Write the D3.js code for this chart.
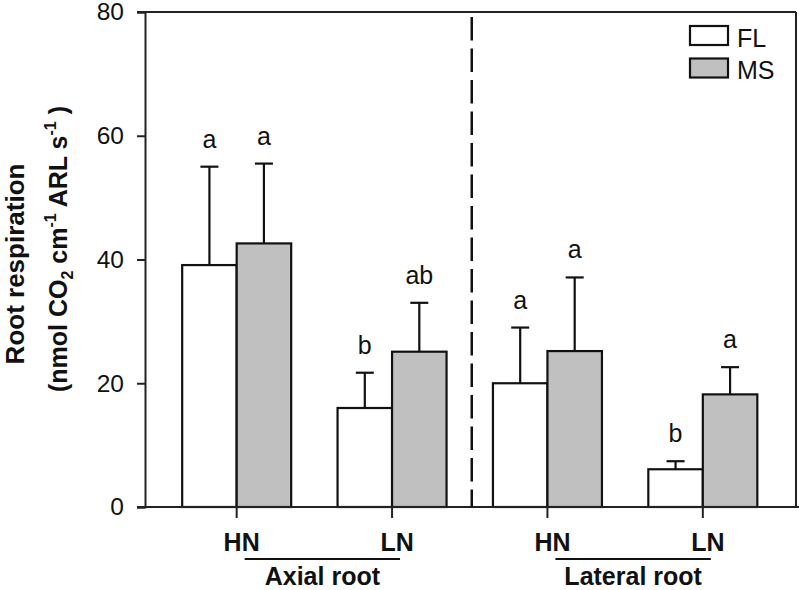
<!DOCTYPE html>
<html><head><meta charset="utf-8">
<script src="https://cdn.jsdelivr.net/npm/d3@7"></script>
<style>body{margin:0;background:#fff}svg{display:block}text{font-family:Arial,"Liberation Sans",sans-serif}</style>
</head><body><svg id="c" width="799" height="590"></svg>
<script>
const categories = ["HN","LN","HN","LN"];
const groups = ["Axial root","Lateral root"];
const seriesNames = ["FL","MS"];
const flValues = [39.1, 16.0, 20.0, 6.1];
const flErrors = [15.9, 5.7, 9.0, 1.3];
const msValues = [42.6, 25.1, 25.2, 18.2];
const msErrors = [12.9, 7.9, 11.9, 4.4];
const flLetters = ["a","b","a","b"];
const msLetters = ["a","ab","a","a"];
const yTicks = [0,20,40,60,80];

const svg = d3.select("#c");
const L = 145, R = 796, T = 12, B = 507;
const y = d3.scaleLinear().domain([0,80]).range([B,T]);
const x = d3.scalePoint().domain(d3.range(categories.length)).range([L,794.5]).padding(0.59);
const bw = 54.5;
const series = [
  {name:seriesNames[0], vals:flValues, errs:flErrors, letters:flLetters, fill:"#ffffff", off:-bw},
  {name:seriesNames[1], vals:msValues, errs:msErrors, letters:msLetters, fill:"#c0c0c0", off:0}
];

// bars
series.forEach(s=>{
  const g = svg.append("g");
  g.selectAll("line.err").data(s.vals).enter().append("line")
    .attr("x1",(d,i)=>x(i)+s.off+bw/2).attr("x2",(d,i)=>x(i)+s.off+bw/2)
    .attr("y1",d=>y(d)).attr("y2",(d,i)=>y(d+s.errs[i]))
    .attr("stroke","#111").attr("stroke-width",2.2);
  g.selectAll("line.cap").data(s.vals).enter().append("line")
    .attr("x1",(d,i)=>x(i)+s.off+bw/2-9).attr("x2",(d,i)=>x(i)+s.off+bw/2+9)
    .attr("y1",(d,i)=>y(d+s.errs[i])).attr("y2",(d,i)=>y(d+s.errs[i]))
    .attr("stroke","#111").attr("stroke-width",2.2);
  g.selectAll("rect").data(s.vals).enter().append("rect")
    .attr("x",(d,i)=>x(i)+s.off).attr("width",bw)
    .attr("y",d=>y(d)).attr("height",d=>B-y(d))
    .attr("fill",s.fill).attr("stroke","#111").attr("stroke-width",2.2);
  g.selectAll("text").data(s.vals).enter().append("text")
    .attr("x",(d,i)=>x(i)+s.off+bw/2).attr("y",(d,i)=>y(d+s.errs[i])-19)
    .attr("text-anchor","middle").attr("font-size",25).attr("fill","#111")
    .text((d,i)=>s.letters[i]);
});

// frame
svg.append("line").attr("x1",L-8).attr("x2",R).attr("y1",T).attr("y2",T).attr("stroke","#222").attr("stroke-width",2);
svg.append("line").attr("x1",R).attr("x2",R).attr("y1",T).attr("y2",B).attr("stroke","#222").attr("stroke-width",2);

// y axis
const ya = svg.append("g").attr("transform",`translate(${L},0)`)
  .call(d3.axisLeft(y).tickValues(yTicks).tickSize(8).tickPadding(13).tickFormat(d3.format("d")));
ya.select(".domain").attr("stroke","#222").attr("stroke-width",2);
ya.selectAll(".tick line").attr("stroke","#222").attr("stroke-width",2);
ya.selectAll(".tick text").attr("font-size",24.5).attr("fill","#111").attr("font-family","Arial, 'Liberation Sans', sans-serif");

// x axis
svg.append("line").attr("x1",L-8).attr("x2",799).attr("y1",B).attr("y2",B).attr("stroke","#222").attr("stroke-width",2);
svg.selectAll("line.xt").data(categories).enter().append("line")
  .attr("x1",(d,i)=>x(i)).attr("x2",(d,i)=>x(i)).attr("y1",B).attr("y2",B+11)
  .attr("stroke","#222").attr("stroke-width",2);
svg.selectAll("text.xl").data(categories).enter().append("text")
  .attr("x",(d,i)=>x(i)+5).attr("y",551).attr("text-anchor","middle")
  .attr("font-size",25).attr("font-weight","bold").attr("fill","#111").text(d=>d);

// group labels
groups.forEach((gname,k)=>{
  const x0 = x(2*k)+8, x1 = x(2*k+1)+8;
  svg.append("line").attr("x1",x0).attr("x2",x1).attr("y1",559).attr("y2",559).attr("stroke","#111").attr("stroke-width",2);
  svg.append("text").attr("x",(x0+x1)/2).attr("y",585).attr("text-anchor","middle")
    .attr("font-size",25).attr("font-weight","bold").attr("fill","#111").text(gname);
});

// dashed divider
const xd = (x(1)+x(2))/2+2;
svg.append("line").attr("x1",xd).attr("x2",xd).attr("y1",17).attr("y2",B)
  .attr("stroke","#111").attr("stroke-width",2.5).attr("stroke-dasharray","23.5,8");

// legend
series.forEach((s,k)=>{
  const ly = 26 + k*32.5;
  svg.append("rect").attr("x",690).attr("y",ly).attr("width",38).attr("height",19)
    .attr("fill",s.fill).attr("stroke","#111").attr("stroke-width",2.2);
  svg.append("text").attr("x",737).attr("y",ly+20.5).attr("font-size",25).attr("fill","#111").text(s.name);
});

// y title
svg.append("text").attr("transform","translate(24,264) rotate(-90)")
  .attr("text-anchor","middle").attr("font-size",26).attr("font-weight","bold").attr("fill","#111")
  .text("Root respiration");
const t2 = svg.append("text").attr("transform","translate(67,249) rotate(-90)")
  .attr("text-anchor","middle").attr("font-size",25).attr("font-weight","bold").attr("fill","#111");
t2.append("tspan").text("(nmol CO");
t2.append("tspan").attr("font-size",16).attr("dy",6).text("2");
t2.append("tspan").attr("dy",-6).text(" cm");
t2.append("tspan").attr("font-size",16).attr("dy",-11).text("-1");
t2.append("tspan").attr("dy",11).text(" ARL s");
t2.append("tspan").attr("font-size",16).attr("dy",-11).text("-1");
t2.append("tspan").attr("dy",11).text(" )");
</script></body></html>
